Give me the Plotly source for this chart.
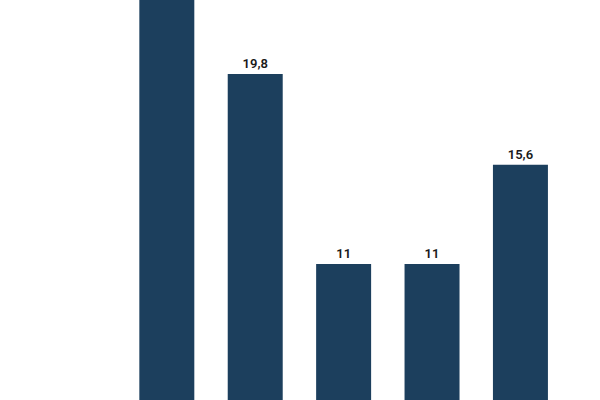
import plotly.graph_objects as go

categories = ["A", "B", "C", "D", "E"]
values = [26.0, 19.8, 11, 11, 15.6]
labels = ["", "19,8", "11", "11", "15,6"]

fig = go.Figure(
    go.Bar(
        x=list(range(len(categories))),
        y=values,
        text=labels,
        textposition="outside",
        cliponaxis=True,
        marker=dict(color="#1c3f5d", line=dict(width=0)),
        textfont=dict(family="Roboto", size=13, color="#1a1a1a", weight=600),
        width=0.622,
        hoverinfo="skip",
    )
)

fig.update_layout(
    width=600,
    height=400,
    margin=dict(l=0, r=0, t=0, b=0),
    paper_bgcolor="white",
    plot_bgcolor="white",
    showlegend=False,
    separators=", ",
    xaxis=dict(range=[-1.887, 4.9], visible=False, fixedrange=True),
    yaxis=dict(range=[4.70, 23.23], visible=False, fixedrange=True),
)

fig.write_html(
    "out.html",
    config={"displayModeBar": False, "staticPlot": True},
    post_script="document.body.style.margin='0';document.body.style.overflow='hidden';",
)
